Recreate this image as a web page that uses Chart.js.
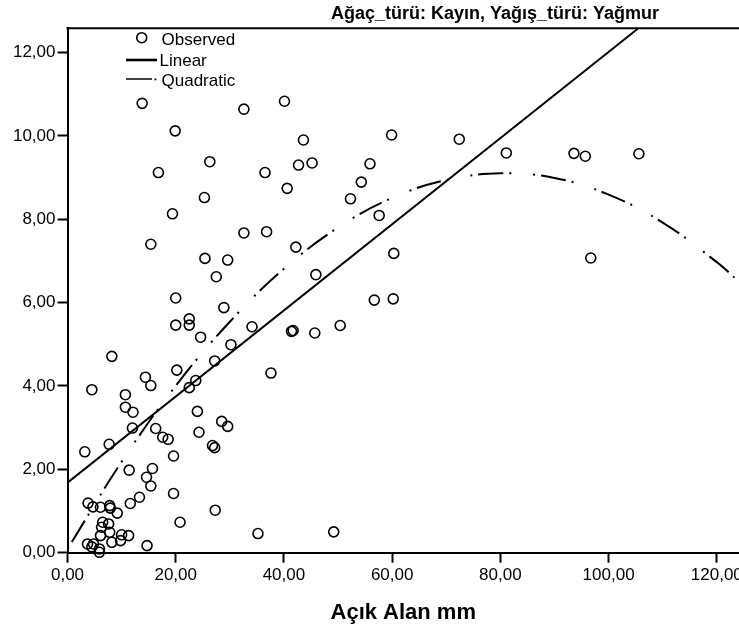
<!DOCTYPE html>
<html><head><meta charset="utf-8">
<script src="https://cdn.jsdelivr.net/npm/chart.js@4.4.1/dist/chart.umd.min.js"></script>
<style>html,body{margin:0;padding:0;background:#fff}canvas{display:block}</style>
</head><body>
<canvas id="c" width="739" height="627"></canvas>
<script>
const chartTitle = 'Ağaç_türü: Kayın, Yağış_türü: Yağmur';
const xAxisTitle = 'Açık Alan mm';
const seriesNames = ['Observed', 'Linear', 'Quadratic'];

const observedX = [13.8, 19.9, 32.6, 40.1, 43.6, 26.3, 16.8, 36.5, 42.7, 45.2,
  40.6, 25.3, 19.4, 32.6, 15.4, 25.4, 29.6, 27.5, 20.0, 28.9,
  20.0, 22.5, 22.5, 24.6, 34.1, 30.2, 27.2, 8.2, 20.2, 14.4,
  15.4, 23.7, 22.5, 4.5, 10.7, 10.7, 12.1, 12.0, 7.7, 3.2,
  16.3, 17.6, 18.6, 19.6, 24.0, 24.3, 28.5, 29.6, 26.8, 27.2,
  11.4, 15.7, 14.6, 15.4, 19.6, 13.3, 11.6, 27.3, 20.8, 3.8,
  4.7, 6.1, 7.8, 7.9, 9.2, 6.5, 7.6, 6.3, 7.8, 6.1,
  10.0, 11.3, 8.2, 9.8, 3.7, 4.5, 4.8, 5.9, 5.9, 14.7,
  35.2, 49.2, 59.9, 55.9, 54.3, 52.3, 57.6, 36.8, 42.2, 60.3,
  45.9, 56.7, 60.2, 41.4, 41.7, 45.7, 50.4, 37.6, 72.4, 81.1,
  93.6, 95.7, 105.6, 96.7];
const observedY = [10.78, 10.12, 10.64, 10.83, 9.90, 9.38, 9.12, 9.12, 9.30, 9.35,
  8.74, 8.52, 8.13, 7.67, 7.40, 7.06, 7.02, 6.62, 6.11, 5.88,
  5.46, 5.61, 5.46, 5.17, 5.42, 4.99, 4.60, 4.71, 4.38, 4.21,
  4.01, 4.13, 3.96, 3.91, 3.79, 3.49, 3.37, 2.99, 2.60, 2.42,
  2.98, 2.77, 2.72, 2.32, 3.39, 2.89, 3.15, 3.03, 2.57, 2.52,
  1.98, 2.02, 1.81, 1.60, 1.42, 1.33, 1.18, 1.02, 0.73, 1.19,
  1.10, 1.09, 1.13, 1.07, 0.95, 0.73, 0.69, 0.61, 0.49, 0.41,
  0.43, 0.41, 0.25, 0.29, 0.21, 0.14, 0.21, 0.09, 0.01, 0.17,
  0.46, 0.50, 10.02, 9.33, 8.89, 8.49, 8.09, 7.70, 7.33, 7.18,
  6.67, 6.06, 6.09, 5.31, 5.33, 5.27, 5.45, 4.31, 9.92, 9.59,
  9.58, 9.51, 9.57, 7.07];

const linearX = [0, 105.5];
const linearY = [1.68, 12.58];

const quadX = [0, 10, 20, 30, 40, 50, 60, 70, 80, 90, 100, 110, 120, 124.1];
const quadY = [0.09, 2.18, 4.00, 5.54, 6.81, 7.80, 8.51, 8.94, 9.10, 8.99, 8.59, 7.92, 6.97, 6.50];

const xTicks = [0, 20, 40, 60, 80, 100, 120];
const xTickLabels = ['0,00', '20,00', '40,00', '60,00', '80,00', '100,00', '120,00'];
const yTicks = [0, 2, 4, 6, 8, 10, 12];
const yTickLabels = ['0,00', '2,00', '4,00', '6,00', '8,00', '10,00', '12,00'];

const FONT = '"Liberation Sans", Arial, sans-serif';

const decor = {
  id: 'decor',
  afterDraw(chart) {
    const ctx = chart.ctx, a = chart.chartArea;
    ctx.save();
    ctx.strokeStyle = '#000';
    ctx.lineWidth = 2;
    ctx.beginPath();
    ctx.moveTo(a.left - 1, a.top);
    ctx.lineTo(chart.width, a.top);
    ctx.stroke();

    ctx.fillStyle = '#000';
    ctx.font = 'bold 18px ' + FONT;
    ctx.textAlign = 'center';
    ctx.textBaseline = 'middle';
    ctx.fillText(chartTitle, 495, 14);

    // legend
    const ds = chart.data.datasets;
    ctx.font = '17px ' + FONT;
    ctx.textAlign = 'left';
    ctx.textBaseline = 'middle';
    ctx.lineWidth = ds[0].borderWidth;
    ctx.beginPath();
    ctx.arc(141.7, 37.7, ds[0].pointRadius, 0, Math.PI * 2);
    ctx.stroke();
    ctx.fillText(ds[0].label, 161.5, 40);
    ctx.lineWidth = 2.6;
    ctx.beginPath();
    ctx.moveTo(126, 60); ctx.lineTo(157, 60);
    ctx.stroke();
    ctx.fillText(ds[1].label, 159.5, 61);
    ctx.lineWidth = 1.5;
    ctx.beginPath();
    ctx.moveTo(126, 79); ctx.lineTo(152, 79);
    ctx.stroke();
    ctx.fillRect(154.5, 78.5, 1.8, 1.8);
    ctx.fillText(ds[2].label, 161.5, 81);
    ctx.restore();
  }
};

new Chart(document.getElementById('c'), {
  type: 'scatter',
  data: {
    datasets: [
      {
        label: seriesNames[0],
        data: observedX.map((x, i) => ({ x: x, y: observedY[i] })),
        showLine: false,
        pointStyle: 'circle',
        pointRadius: 5,
        borderWidth: 1.6,
        borderColor: '#000',
        backgroundColor: 'rgba(0,0,0,0)',
        clip: false
      },
      {
        label: seriesNames[1],
        data: linearX.map((x, i) => ({ x: x, y: linearY[i] })),
        showLine: true,
        pointRadius: 0,
        borderWidth: 2,
        borderColor: '#000',
        backgroundColor: '#000'
      },
      {
        label: seriesNames[2],
        data: quadX.map((x, i) => ({ x: x, y: quadY[i] })),
        showLine: true,
        pointRadius: 0,
        borderWidth: 2,
        borderColor: '#000',
        backgroundColor: '#000',
        borderDash: [2, 6, 25, 6, 2, 22],
        tension: 0.4
      }
    ]
  },
  options: {
    responsive: false,
    animation: false,
    events: [],
    devicePixelRatio: 1,
    layout: { autoPadding: false, padding: { top: 28.3, left: 0, right: 0, bottom: 0 } },
    plugins: {
      legend: { display: false },
      title: { display: false },
      tooltip: { enabled: false }
    },
    scales: {
      x: {
        type: 'linear',
        min: 0,
        max: 124.1,
        afterBuildTicks: s => { s.ticks = xTicks.map(v => ({ value: v })); },
        afterFit: s => { s.height = 74.3; s.paddingLeft = 0; s.paddingRight = 0; },
        ticks: {
          callback: v => xTickLabels[xTicks.indexOf(v)],
          font: { family: FONT, size: 17 },
          color: '#000',
          padding: 2,
          maxRotation: 0,
          autoSkip: false,
          includeBounds: false
        },
        grid: { drawOnChartArea: false, drawTicks: true, tickLength: 10, tickWidth: 2, tickColor: '#000' },
        border: { display: true, color: '#000', width: 2 },
        title: {
          display: true,
          text: xAxisTitle,
          color: '#000',
          font: { family: FONT, size: 22, weight: 'bold' },
          padding: { top: 0, bottom: 1 }
        }
      },
      y: {
        type: 'linear',
        min: 0,
        max: 12.58,
        afterBuildTicks: s => { s.ticks = yTicks.map(v => ({ value: v })); },
        afterFit: s => { s.width = 67.5; s.paddingTop = 0; s.paddingBottom = 0; },
        ticks: {
          callback: v => yTickLabels[yTicks.indexOf(v)],
          font: { family: FONT, size: 17 },
          color: '#000',
          padding: 2,
          autoSkip: false,
          includeBounds: false
        },
        grid: { drawOnChartArea: false, drawTicks: true, tickLength: 10, tickWidth: 2, tickColor: '#000' },
        border: { display: true, color: '#000', width: 2 }
      }
    }
  },
  plugins: [decor]
});
</script>
</body></html>
